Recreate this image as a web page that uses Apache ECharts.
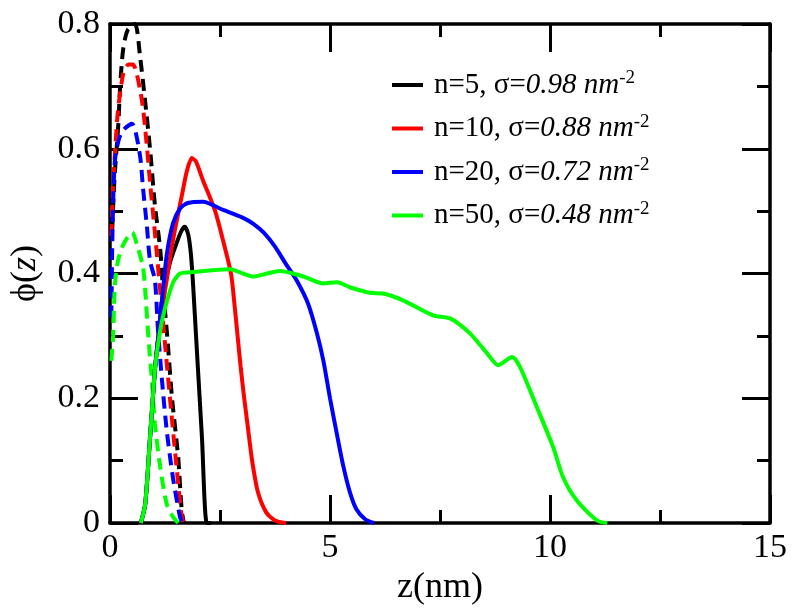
<!DOCTYPE html>
<html>
<head>
<meta charset="utf-8">
<script src="https://cdn.jsdelivr.net/npm/echarts@6/dist/echarts.min.js"></script>
<style>html,body{margin:0;padding:0;background:#fff;}#c{width:800px;height:611px;}</style>
</head>
<body>
<div id="c"></div>
<script>
// ---- data ----
var xTicks = [0, 5, 10, 15];
var yTicks = [0, 0.2, 0.4, 0.6, 0.8];
var legendNames = ['n=5', 'n=10', 'n=20', 'n=50'];
var legendSigma = ['0.98', '0.88', '0.72', '0.48'];

// solid curves (outer profile)
var n5Solid = [[0.7,0],[0.8,0.03],[0.91,0.137],[1.02,0.245],[1.1,0.30],[1.2,0.365],[1.36,0.417],[1.52,0.45],[1.62,0.468],[1.7,0.475],[1.78,0.462],[1.84,0.43],[1.89,0.38],[1.98,0.27],[2.09,0.137],[2.2,0.0],[2.3,0]];
var n10Solid = [[0.7,0],[0.8,0.03],[0.91,0.137],[1.02,0.245],[1.1,0.30],[1.2,0.35],[1.29,0.39],[1.43,0.453],[1.63,0.524],[1.75,0.565],[1.86,0.585],[1.95,0.58],[2.11,0.55],[2.39,0.50],[2.58,0.45],[2.75,0.40],[2.83,0.35],[2.9,0.30],[2.97,0.25],[3.05,0.20],[3.14,0.15],[3.23,0.10],[3.36,0.05],[3.55,0.017],[3.75,0.004],[4.0,0]];
var n20Solid = [[0.7,0],[0.8,0.03],[0.91,0.137],[1.02,0.245],[1.1,0.30],[1.2,0.37],[1.29,0.43],[1.43,0.48],[1.6,0.505],[1.77,0.513],[2.11,0.515],[2.57,0.502],[3.0,0.49],[3.25,0.48],[3.5,0.465],[3.75,0.443],[4.0,0.415],[4.25,0.388],[4.5,0.352],[4.7,0.305],[4.85,0.26],[5.0,0.2],[5.15,0.145],[5.3,0.092],[5.45,0.05],[5.6,0.022],[5.8,0.006],[6.0,0]];
var n50Solid = [[0.7,0],[0.8,0.03],[0.91,0.137],[1.02,0.245],[1.1,0.29],[1.2,0.33],[1.43,0.385],[1.59,0.40],[1.82,0.402],[2.27,0.405],[2.73,0.407],[3.02,0.40],[3.25,0.395],[3.57,0.40],[3.86,0.404],[4.16,0.40],[4.48,0.393],[4.84,0.384],[5.16,0.386],[5.45,0.378],[5.91,0.369],[6.2,0.368],[6.66,0.357],[7.34,0.333],[7.73,0.328],[8.18,0.304],[8.57,0.272],[8.82,0.253],[9.14,0.266],[9.32,0.25],[9.7,0.186],[10.07,0.122],[10.3,0.073],[10.61,0.036],[11.07,0.004],[11.3,0]];

// dashed curves (inner profile)
var n5Dashed = [[0.05,0.47],[0.1,0.55],[0.19,0.64],[0.23,0.70],[0.30,0.76],[0.4,0.79],[0.57,0.80],[0.68,0.75],[0.8,0.675],[0.91,0.60],[1.02,0.51],[1.14,0.44],[1.2,0.38],[1.3,0.30],[1.41,0.20],[1.55,0.105],[1.63,0.02],[1.68,0]];
var n10Dashed = [[0.03,0.46],[0.07,0.54],[0.11,0.59],[0.18,0.66],[0.3,0.72],[0.42,0.735],[0.52,0.735],[0.72,0.68],[0.83,0.61],[0.91,0.546],[1.02,0.466],[1.14,0.373],[1.29,0.256],[1.41,0.165],[1.52,0.084],[1.63,0.01],[1.68,0]];
var n20Dashed = [[0.03,0.33],[0.05,0.44],[0.07,0.51],[0.11,0.58],[0.2,0.615],[0.3,0.63],[0.5,0.64],[0.68,0.59],[0.75,0.537],[0.84,0.475],[0.91,0.42],[1.02,0.39],[1.09,0.31],[1.18,0.23],[1.29,0.148],[1.43,0.073],[1.59,0.01],[1.65,0]];
var n50Dashed = [[0.03,0.26],[0.07,0.30],[0.11,0.38],[0.18,0.42],[0.3,0.446],[0.5,0.466],[0.64,0.44],[0.75,0.41],[0.8,0.373],[0.87,0.30],[0.95,0.23],[1.02,0.16],[1.14,0.09],[1.29,0.03],[1.43,0.01],[1.55,0]];

var colors = ['#000000', '#ff0000', '#0000ff', '#00ff00'];
var solids = [n5Solid, n10Solid, n20Solid, n50Solid];
var dashes = [n5Dashed, n10Dashed, n20Dashed, n50Dashed];

var FONT = "'Liberation Serif', 'Times New Roman', serif";
var chart = echarts.init(document.getElementById('c'), null, {renderer: 'canvas'});

var legendLabels = {};
legendNames.forEach(function (n, i) {
  legendLabels[n] = '{r|' + n + ', σ=}{i|' + legendSigma[i] + ' nm}{s|-2}';
});

var series = [];
dashes.forEach(function (d, i) {
  series.push({
    name: legendNames[i] + ' inner', type: 'line', data: d, showSymbol: false, smooth: 0.25,
    lineStyle: {color: colors[i], width: 4, type: [12, 7]}, itemStyle: {color: colors[i]}, z: 3
  });
});
solids.forEach(function (d, i) {
  series.push({
    name: legendNames[i], type: 'line', data: d, showSymbol: false, smooth: 0.25,
    lineStyle: {color: colors[i], width: 4}, itemStyle: {color: colors[i]}, z: 4
  });
});

var tickStyle = {color: '#000', width: 3};
function mkX(pos, show) {
  return {
    type: 'value', position: pos, min: 0, max: 15, interval: 5,
    axisLine: {show: true, onZero: false, lineStyle: {color: '#000', width: 3.5}},
    axisTick: {show: true, inside: true, length: 28, lineStyle: tickStyle},
    minorTick: {show: true, splitNumber: 2, length: 13, lineStyle: tickStyle},
    splitLine: {show: false},
    axisLabel: {show: show, margin: 8, color: '#000', fontSize: 34, fontFamily: FONT},
    name: show ? 'z(nm)' : '', nameLocation: 'middle', nameGap: 44,
    nameTextStyle: {color: '#000', fontSize: 36, fontFamily: FONT}
  };
}
function mkY(pos, show) {
  return {
    type: 'value', position: pos, min: 0, max: 0.8, interval: 0.2,
    axisLine: {show: true, onZero: false, lineStyle: {color: '#000', width: 3.5}},
    axisTick: {show: true, inside: true, length: 28, lineStyle: tickStyle},
    minorTick: {show: true, splitNumber: 2, length: 13, lineStyle: tickStyle},
    splitLine: {show: false},
    axisLabel: {show: show, margin: 10, color: '#000', fontSize: 34, fontFamily: FONT,
      formatter: function (v) { return v === 0 ? '0' : v.toFixed(1); }},
    name: show ? '{a|ϕ(}{b|z}{a|)}' : '', nameLocation: 'middle', nameGap: 66,
    nameTextStyle: {color: '#000', fontSize: 36, fontFamily: FONT,
      rich: {a: {fontSize: 36, fontFamily: FONT, color: '#000'}, b: {fontSize: 36, fontFamily: FONT, fontStyle: 'italic', color: '#000'}}}
  };
}

chart.setOption({
  animation: false,
  backgroundColor: '#ffffff',
  grid: {left: 110, right: 30, top: 24, bottom: 88, containLabel: false},
  xAxis: [mkX('bottom', true), mkX('top', false)],
  yAxis: [mkY('left', true), mkY('right', false)],
  legend: {
    data: legendNames, orient: 'vertical', left: 387, top: 64, itemWidth: 31, itemHeight: 4, itemGap: 13, icon: 'rect',
    formatter: function (n) { return legendLabels[n]; },
    textStyle: {color: '#000', fontFamily: FONT, fontSize: 29,
      rich: {
        r: {fontSize: 29, fontFamily: FONT, color: '#000', lineHeight: 32, padding: [0, 0, 0, 6]},
        i: {fontSize: 29, fontFamily: FONT, color: '#000', fontStyle: 'italic', lineHeight: 32},
        s: {fontSize: 19, fontFamily: FONT, color: '#000', lineHeight: 19, verticalAlign: 'top'}
      }}
  },
  series: series
});
</script>
</body>
</html>
